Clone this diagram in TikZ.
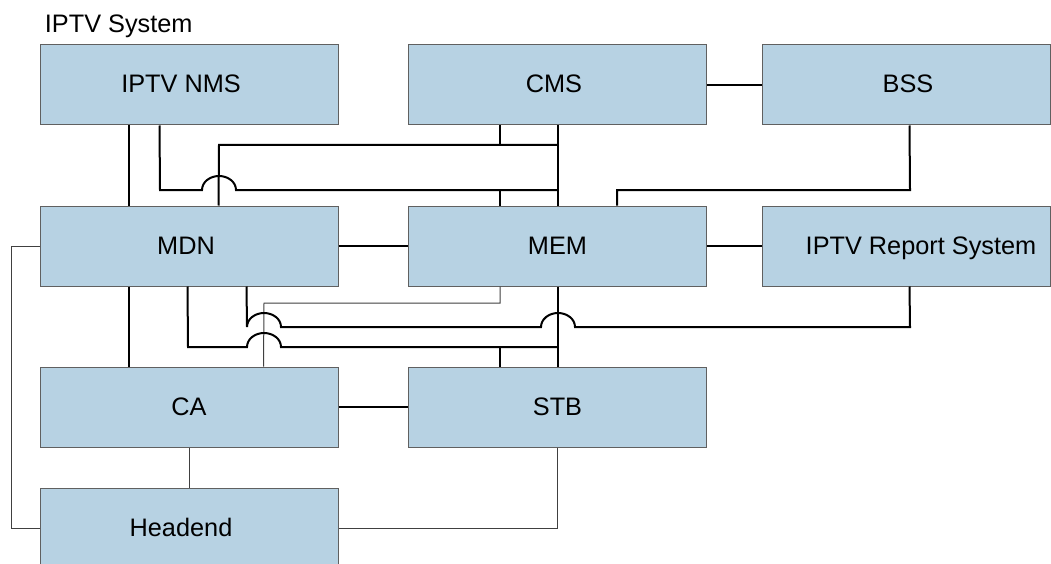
\documentclass[tikz,border=0pt]{standalone}
\usepackage{fontspec}
\setmainfont{Liberation Sans}
\definecolor{boxfill}{HTML}{B7D2E3}
\definecolor{boxline}{HTML}{606060}
\definecolor{thinline}{HTML}{404040}
\begin{document}
\begin{tikzpicture}[x=1pt,y=-1pt,
  blk/.style={draw=boxline, line width=1pt, fill=boxfill, minimum height=80pt, inner sep=0pt},
  wide/.style={blk, minimum width=298pt},
  narrow/.style={blk, minimum width=288pt},
  lbl/.style={inner sep=0pt, anchor=base, font=\fontsize{25.3}{29}\selectfont},
  conn/.style={line width=2pt, black, line cap=butt, line join=miter},
  thin/.style={line width=1pt, thinline}
]
\clip (0,0) rectangle (1051,564);
\fill[white] (0,0) rectangle (1051,564);

% title
\node[lbl, anchor=base west] (title) at (44.7,33) {IPTV System};

% boxes
\node[wide] (nms) at (189,85) {};
\node[wide] (cms) at (557.5,85) {};
\node[narrow] (bss) at (906,85) {};
\node[wide] (mdn) at (189,246) {};
\node[wide] (mem) at (557.5,246) {};
\node[narrow] (rep) at (906,246) {};
\node[wide] (ca) at (189,407) {};
\node[wide] (stb) at (557.5,407) {};
\node[wide] (head) at (189,528) {};

% labels
\node[lbl] (tnms) at (181,93) {IPTV NMS};
\node[lbl] (tcms) at (554,93) {CMS};
\node[lbl] (tbss) at (908,93) {BSS};
\node[lbl] (tmdn) at (186,254) {MDN};
\node[lbl] (tmem) at (557.5,254) {MEM};
\node[lbl] (trep) at (921,254) {IPTV Report System};
\node[lbl] (tca) at (189,415) {CA};
\node[lbl] (tstb) at (557.5,415) {STB};
\node[lbl] (thead) at (181,536) {Headend};

% straight horizontal links
\draw[conn] (cms.east) -- (bss.west);
\draw[conn] (mdn.east) -- (mem.west);
\draw[conn] (mem.east) -- (rep.west);
\draw[conn] (ca.east) -- (stb.west);

% upper section
\draw[conn] ([xshift=89pt]nms.south west) -- ([xshift=89pt]mdn.north west);
\draw[conn] ([xshift=120pt]nms.south west) -- (160,190) -- (202,190)
   arc[start angle=180, end angle=0, x radius=17pt, y radius=14pt] -- (558,190);
\draw[conn] ([xshift=92pt]cms.south west) -- (500,145);
\draw[conn] ([xshift=179pt]mdn.north west) -- (219,145) -- (558,145);
\draw[conn] ([xshift=150pt]cms.south west) -- ([xshift=150pt]mem.north west);
\draw[conn] (500,190) -- ([xshift=92pt]mem.north west);
\draw[conn] ([xshift=148pt]bss.south west) -- (910,190) -- (617,190) -- ([xshift=209pt]mem.north west);

% lower section
\draw[conn] ([xshift=89pt]mdn.south west) -- ([xshift=89pt]ca.north west);
\draw[thin] ([xshift=92pt]mem.south west) -- (500,303) -- (264,303) -- ([xshift=224pt]ca.north west);
\draw[conn] ([xshift=148pt]mdn.south west) -- (188,347) -- (247,347)
   arc[start angle=180, end angle=0, x radius=17pt, y radius=14pt] -- (558,347);
\draw[conn] (500,347) -- ([xshift=92pt]stb.north west);
\draw[conn] ([xshift=207pt]mdn.south west) -- (247,327)
   arc[start angle=180, end angle=0, x radius=17pt, y radius=14pt] -- (541,327)
   arc[start angle=180, end angle=0, x radius=17pt, y radius=14pt] -- (910,327)
   -- ([xshift=148pt]rep.south west);
\draw[conn] ([xshift=150pt]mem.south west) -- ([xshift=150pt]stb.north west);

% thin links to headend
\draw[thin] (ca.south) -- (head.north);
\draw[thin] (stb.south) |- (head.east);
\draw[thin] (mdn.west) -- (11,246) |- (head.west);
\end{tikzpicture}
\end{document}
